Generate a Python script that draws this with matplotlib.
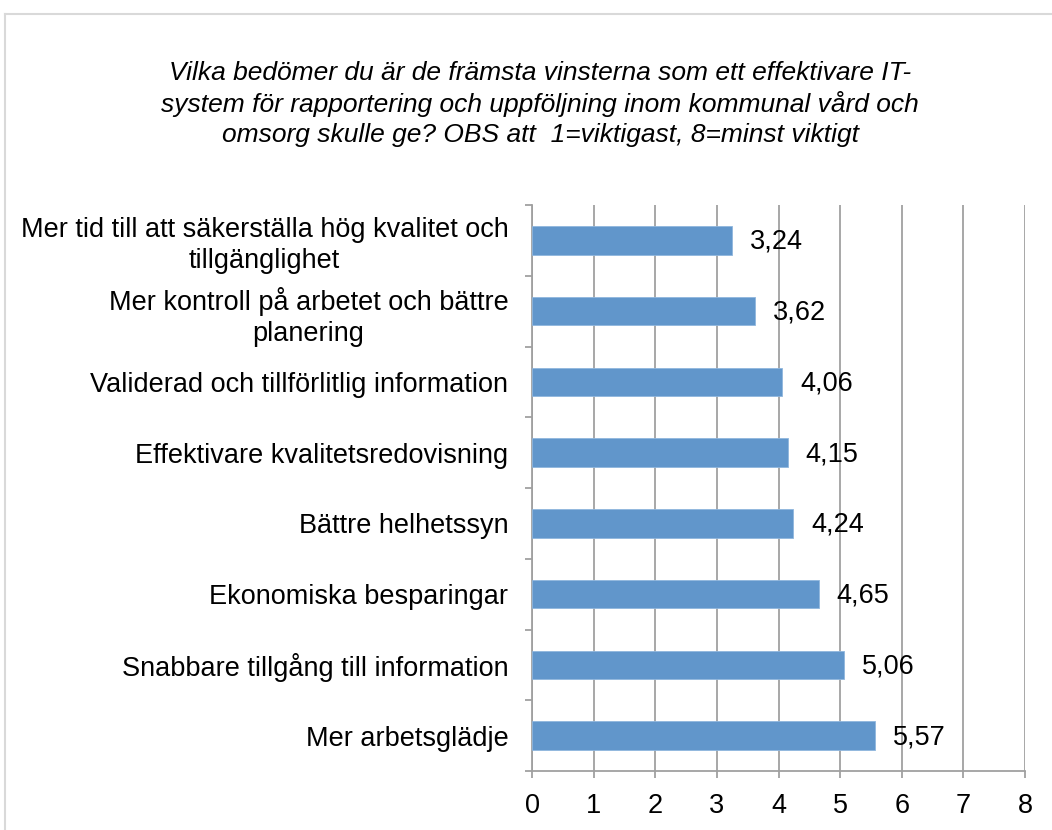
import matplotlib
matplotlib.use("Agg")
import matplotlib.pyplot as plt
from matplotlib.lines import Line2D
import numpy as np

plt.rcParams['font.family'] = ['Liberation Sans', 'DejaVu Sans']

title = ("Vilka bedömer du är de främsta vinsterna som ett effektivare IT-\n"
         "system för rapportering och uppföljning inom kommunal vård och\n"
         "omsorg skulle ge? OBS att  1=viktigast, 8=minst viktigt")

# top to bottom, as shown
categories = [
    "Mer tid till att säkerställa hög kvalitet och\ntillgänglighet",
    "Mer kontroll på arbetet och bättre\nplanering",
    "Validerad och tillförlitlig information",
    "Effektivare kvalitetsredovisning",
    "Bättre helhetssyn",
    "Ekonomiska besparingar",
    "Snabbare tillgång till information",
    "Mer arbetsglädje",
]
values = [3.24, 3.62, 4.06, 4.15, 4.24, 4.65, 5.06, 5.57]
value_labels = ["3,24", "3,62", "4,06", "4,15", "4,24", "4,65", "5,06", "5,57"]
xticks = [0, 1, 2, 3, 4, 5, 6, 7, 8]

W, H = 1052, 830
fig = plt.figure(figsize=(W / 100, H / 100), dpi=100)

# chart area border (cut off at right and bottom)
border = '#d9d9d9'
fig.add_artist(Line2D([5 / W, 1.0], [1 - 14 / H, 1 - 14 / H], color=border, lw=1.5))
fig.add_artist(Line2D([5 / W, 5 / W], [0.0, 1 - 14 / H], color=border, lw=1.5))

fig.text(540 / W, 1 - 104 / H, title, ha='center', va='center', style='italic',
         fontsize=19, linespacing=1.3)

ax = fig.add_axes([532 / W, 1 - 771 / H, (1025 - 532) / W, (771 - 205) / H])

n = len(categories)
ypos = np.arange(n)
ax.barh(ypos, values, height=0.4, color='#6196cb', edgecolor='#8fb6dd', lw=0.6, zorder=3)
ax.set_ylim(n - 0.5, -0.5)
ax.set_xlim(0, 8)

fs = 19.5
grid = '#a0a0a0'
ax.set_xticks(xticks)
ax.set_xticklabels([str(t) for t in xticks], fontsize=fs)
ax.xaxis.grid(True, color=grid, lw=1.3, zorder=0)

ax.set_yticks(np.arange(n + 1) - 0.5)
ax.set_yticklabels([])
ax.set_yticks(ypos, minor=True)
ax.set_yticklabels(categories, minor=True, fontsize=fs, multialignment='center',
                   linespacing=1.25)
ax.tick_params(axis='y', which='minor', length=0, pad=17)
ax.tick_params(axis='y', which='major', length=5, color=grid, width=1.3)
ax.tick_params(axis='x', length=5, color=grid, width=1.3, pad=11)

for side in ['top', 'right']:
    ax.spines[side].set_visible(False)
for side in ['left', 'bottom']:
    ax.spines[side].set_color(grid)
    ax.spines[side].set_linewidth(1.3)

for y, v, lab in zip(ypos, values, value_labels):
    ax.annotate(lab, (v, y), xytext=(13, -1), textcoords='offset points',
                ha='left', va='center', fontsize=fs, zorder=4)

fig.savefig('out.png', dpi=100)
